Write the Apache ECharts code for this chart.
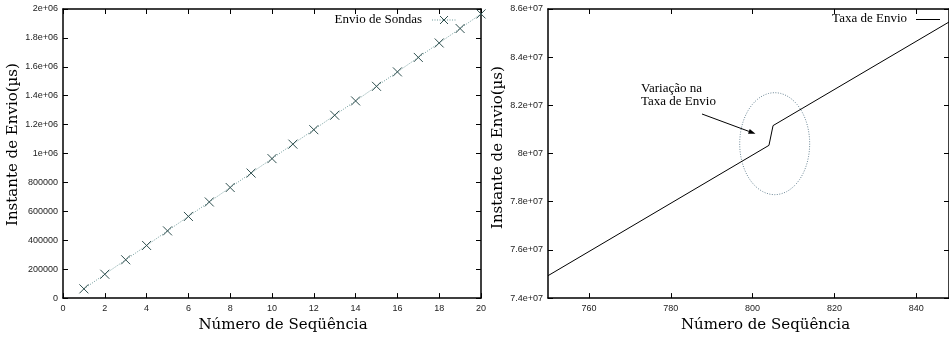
<!DOCTYPE html>
<html>
<head>
<meta charset="utf-8">
<script src="https://cdn.jsdelivr.net/npm/echarts@6/dist/echarts.min.js"></script>
<style>
  html, body { margin: 0; padding: 0; background: #fff; }
  #chart { width: 949px; height: 338px; }
</style>
</head>
<body>
<div id="chart"></div>
<script>
// left panel: probe send instants
var probeSeq = [1, 2, 3, 4, 5, 6, 7, 8, 9, 10, 11, 12, 13, 14, 15, 16, 17, 18, 19, 20];
var probeTime = [64000, 165000, 265000, 364000, 465000, 565000, 665000, 765000, 865000, 965000,
                 1065000, 1165000, 1265000, 1364000, 1465000, 1565000, 1665000, 1765000, 1865000, 1966000];
var leftYTickLabels = ["0", "200000", "400000", "600000", "800000", "1e+06",
                       "1.2e+06", "1.4e+06", "1.6e+06", "1.8e+06", "2e+06"];

// right panel: send rate, with the change near 804
var rateSeq = [750, 804, 805, 848];
var rateTime = [74930000, 80340000, 81160000, 85460000];
var rightXTicks = [760, 780, 800, 820, 840];
var rightYTickLabels = ["7.4e+07", "7.6e+07", "7.8e+07", "8e+07", "8.2e+07", "8.4e+07", "8.6e+07"];

// annotation anchors (data coords, right panel)
var ellipseCenter = [805.4, 80410000];
var arrowTip = [800.7, 80820000];

var chart = echarts.init(document.getElementById("chart"));

var tickFont = { fontFamily: "Liberation Sans", fontSize: 9, color: "#222" };
var titleFont = { fontFamily: "DejaVu Serif", fontSize: 15, color: "#000" };
var blackLine = { color: "#000", width: 1.5 };

function frameAxis(grid, pos, extra) {
    var ax = {
        gridIndex: grid,
        type: "value",
        position: pos,
        axisLine: { show: true, onZero: false, lineStyle: blackLine },
        axisTick: { show: true, inside: true, length: 5, lineStyle: { color: "#000" } },
        axisLabel: { show: false },
        splitLine: { show: false },
    };
    return Object.assign(ax, extra);
}

var option = {
    animation: false,
    grid: [
        { left: 63, top: 9, width: 418, height: 292 },
        { left: 548, top: 9, width: 404, height: 292 },
    ],
    xAxis: [
        frameAxis(0, "bottom", {
            min: 0, max: 20, interval: 2,
            axisLabel: Object.assign({ show: true, margin: 6 }, tickFont),
            name: "Número de Seqüência",
            nameLocation: "middle",
            nameGap: 17,
            nameTextStyle: Object.assign({ padding: [0, 0, 0, 22] }, titleFont),
        }),
        frameAxis(0, "top", { min: 0, max: 20, interval: 2 }),
        frameAxis(1, "bottom", {
            min: 750, max: 848,
            axisTick: { show: true, inside: true, length: 5, customValues: rightXTicks, lineStyle: { color: "#000" } },
            axisLabel: Object.assign({ show: true, margin: 6, customValues: rightXTicks }, tickFont),
            name: "Número de Seqüência",
            nameLocation: "middle",
            nameGap: 17,
            nameTextStyle: Object.assign({ padding: [0, 0, 0, 34] }, titleFont),
        }),
        frameAxis(1, "top", {
            min: 750, max: 848,
            axisTick: { show: true, inside: true, length: 5, customValues: rightXTicks, lineStyle: { color: "#000" } },
        }),
    ],
    yAxis: [
        frameAxis(0, "left", {
            min: 0, max: 2000000, interval: 200000,
            axisLabel: Object.assign({
                show: true, margin: 5,
                formatter: function (v) { return leftYTickLabels[Math.round(v / 200000)]; },
            }, tickFont),
            name: "Instante de Envio(µs)",
            nameLocation: "middle",
            nameGap: 42,
            nameTextStyle: Object.assign({ padding: [0, 0, 0, 18] }, titleFont),
        }),
        frameAxis(0, "right", { min: 0, max: 2000000, interval: 200000 }),
        frameAxis(1, "left", {
            min: 74000000, max: 86000000, interval: 2000000,
            axisLabel: Object.assign({
                show: true, margin: 5,
                formatter: function (v) { return rightYTickLabels[Math.round((v - 74000000) / 2000000)]; },
            }, tickFont),
            name: "Instante de Envio(µs)",
            nameLocation: "middle",
            nameGap: 42,
            nameTextStyle: Object.assign({ padding: [0, 0, 0, 12] }, titleFont),
        }),
        frameAxis(1, "right", { min: 74000000, max: 86000000, interval: 2000000 }),
    ],
    series: [
        {
            name: "Envio de Sondas",
            type: "line",
            xAxisIndex: 0,
            yAxisIndex: 0,
            clip: false,
            data: probeSeq.map(function (s, i) { return [s, probeTime[i]]; }),
            symbol: "path://M0,0L10,10M10,0L0,10",
            symbolSize: 9,
            itemStyle: { color: "none", borderColor: "#2f4f4f", borderWidth: 1 },
            lineStyle: { color: "#6f9a9a", width: 1, type: [1, 1.5] },
        },
        {
            name: "Taxa de Envio",
            type: "line",
            xAxisIndex: 2,
            yAxisIndex: 2,
            data: rateSeq.map(function (s, i) { return [s, rateTime[i]]; }),
            showSymbol: false,
            lineStyle: { color: "#000", width: 1 },
        },
    ],
};

chart.setOption(option);

// legends, annotation text, ellipse and arrow
var c = chart.convertToPixel({ gridIndex: 1 }, ellipseCenter);
var tip = chart.convertToPixel({ gridIndex: 1 }, arrowTip);
var tail = [702, 114];
var ang = Math.atan2(tip[1] - tail[1], tip[0] - tail[0]);
var hl = 7, hw = 2.5;
var base = [tip[0] - hl * Math.cos(ang), tip[1] - hl * Math.sin(ang)];
var head = [
    tip,
    [base[0] + hw * Math.sin(ang), base[1] - hw * Math.cos(ang)],
    [base[0] - hw * Math.sin(ang), base[1] + hw * Math.cos(ang)],
];
var ring = [];
for (var k = 0; k <= 72; k++) {
    var t = k / 72 * 2 * Math.PI;
    ring.push([c[0] + 35 * Math.cos(t), c[1] + 51 * Math.sin(t)]);
}
var serif = { fontFamily: "Liberation Serif", fontSize: 13, fill: "#000" };

chart.setOption({
    graphic: [
        { type: "text", x: 422, y: 20, style: Object.assign({ text: "Envio de Sondas", align: "right", verticalAlign: "middle" }, serif) },
        { type: "line", shape: { x1: 432, y1: 20, x2: 457, y2: 20 }, style: { stroke: "#6f9a9a", lineWidth: 1, lineDash: [1, 1.5] } },
        { type: "line", shape: { x1: 440, y1: 16, x2: 448, y2: 24 }, style: { stroke: "#2f4f4f", lineWidth: 1 } },
        { type: "line", shape: { x1: 448, y1: 16, x2: 440, y2: 24 }, style: { stroke: "#2f4f4f", lineWidth: 1 } },
        { type: "text", x: 907, y: 19, style: Object.assign({ text: "Taxa de Envio", align: "right", verticalAlign: "middle" }, serif) },
        { type: "line", shape: { x1: 916, y1: 19.5, x2: 940, y2: 19.5 }, style: { stroke: "#000", lineWidth: 1 } },
        { type: "text", x: 641, y: 82, style: Object.assign({ text: "Variação na\nTaxa de Envio", lineHeight: 13 }, serif) },
        { type: "polyline", shape: { points: ring }, style: { fill: "none", stroke: "#6a8594", lineWidth: 1, lineDash: [1, 1.5] } },
        { type: "line", shape: { x1: tail[0], y1: tail[1], x2: base[0], y2: base[1] }, style: { stroke: "#000", lineWidth: 1 } },
        { type: "polygon", shape: { points: head }, style: { fill: "#000" } },
    ],
});
</script>
</body>
</html>
